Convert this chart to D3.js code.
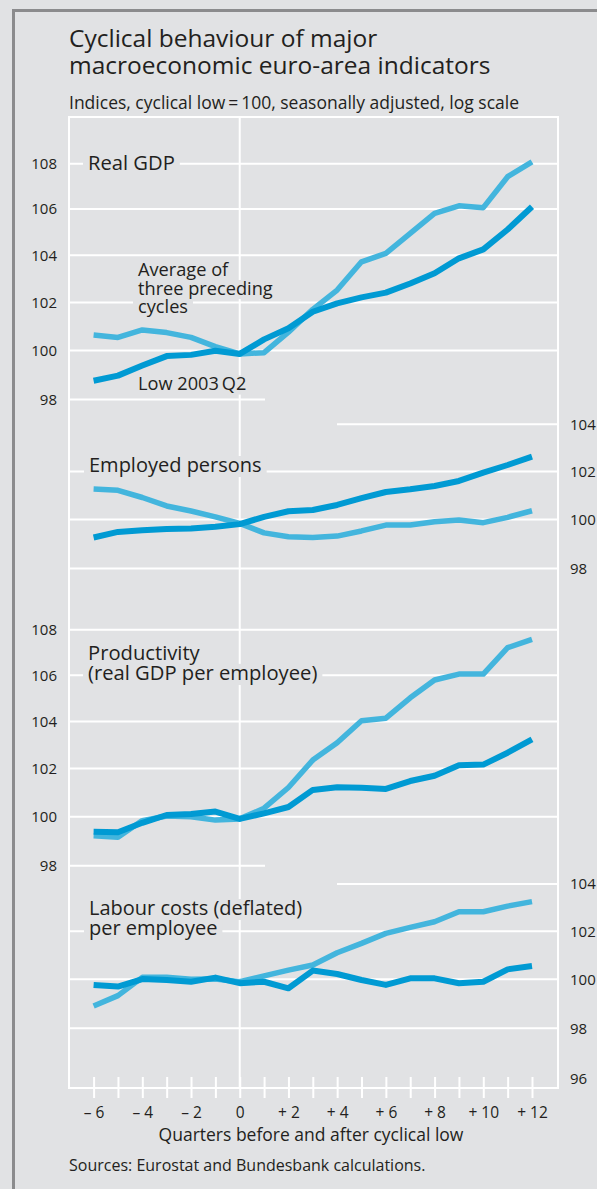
<!DOCTYPE html>
<html>
<head>
<meta charset="utf-8">
<script src="https://d3js.org/d3.v7.min.js"></script>
<style>
  body { margin: 0; background: #e1e2e4; }
  svg { display: block; font-family: "Open Sans", sans-serif; }
</style>
</head>
<body>
<script>
// quarters before / after the cyclical low
var quarters = [-6, -5, -4, -3, -2, -1, 0, 1, 2, 3, 4, 5, 6, 7, 8, 9, 10, 11, 12];

// Real GDP
var gdpLow = [98.76, 98.97, 99.38, 99.77, 99.82, 99.99, 99.86, 100.46, 100.92, 101.61, 101.96, 102.21, 102.41, 102.80, 103.23, 103.87, 104.25, 105.11, 106.10];
var gdpAvg = [100.64, 100.54, 100.85, 100.74, 100.54, 100.16, 99.86, 99.91, 100.76, 101.71, 102.52, 103.72, 104.08, 104.94, 105.81, 106.14, 106.06, 107.42, 108.08];

// Employed persons
var empLow = [99.26, 99.49, 99.56, 99.61, 99.63, 99.70, 99.81, 100.11, 100.34, 100.39, 100.60, 100.88, 101.14, 101.25, 101.39, 101.60, 101.95, 102.27, 102.62];
var empAvg = [101.26, 101.21, 100.91, 100.56, 100.35, 100.11, 99.84, 99.45, 99.29, 99.26, 99.32, 99.53, 99.77, 99.77, 99.91, 99.98, 99.87, 100.09, 100.36];

// Productivity (real GDP per employee)
var prodLow = [99.38, 99.36, 99.75, 100.07, 100.11, 100.21, 99.91, 100.14, 100.40, 101.11, 101.22, 101.20, 101.15, 101.48, 101.70, 102.14, 102.17, 102.67, 103.24];
var prodAvg = [99.22, 99.16, 99.84, 100.03, 100.00, 99.86, 99.91, 100.35, 101.21, 102.36, 103.09, 104.03, 104.14, 105.02, 105.79, 106.05, 106.05, 107.21, 107.58];

// Labour costs (deflated) per employee
var labLow = [99.77, 99.70, 100.01, 99.97, 99.90, 100.07, 99.84, 99.90, 99.63, 100.36, 100.22, 99.97, 99.77, 100.04, 100.04, 99.84, 99.90, 100.41, 100.55];
var labAvg = [98.91, 99.33, 100.08, 100.08, 100.00, 100.01, 99.90, 100.14, 100.38, 100.59, 101.10, 101.49, 101.91, 102.16, 102.40, 102.82, 102.82, 103.06, 103.25];

// tick labels
var leftTicks = [98, 100, 102, 104, 106, 108];
var empTicks = [98, 100, 102, 104];
var labTicks = [96, 98, 100, 102, 104];

var W = 597, H = 1189;
var plotL = 69, plotR = 558, plotT = 117, plotB = 1088;
var pxPerLog = 2428;   // pixels per natural-log unit, same for every panel
var textCol = "#231f20";
var bg = "#e1e2e4";
var darkBlue = "#009ad3", lightBlue = "#43b5dd";
var numFont = "'Liberation Sans Narrow', 'Open Sans', sans-serif";

var svg = d3.select("body").append("svg")
    .attr("width", W)
    .attr("height", H);

svg.append("rect").attr("width", W).attr("height", H).attr("fill", bg);

// grey frame at top and left
svg.append("path")
    .attr("d", "M13.5," + H + "V10.5H" + W)
    .attr("fill", "none")
    .attr("stroke", "#8b8b8d")
    .attr("stroke-width", 3);

// titles
svg.append("text").attr("x", 69).attr("y", 47).attr("font-size", 24.5).attr("fill", textCol)
    .text("Cyclical behaviour of major");
svg.append("text").attr("x", 69).attr("y", 74).attr("font-size", 24.5).attr("fill", textCol)
    .text("macroeconomic euro-area indicators");
svg.append("text").attr("x", 69).attr("y", 109).attr("font-size", 17.5).attr("fill", textCol)
    .text("Indices, cyclical low\u2009=\u2009100, seasonally adjusted, log scale");

var x = d3.scaleLinear().domain([-6, 12]).range([93.6, 532]);

var panels = [
  { y100: 350.5, ticks: leftTicks, side: "left", low: gdpLow, avg: gdpAvg, partial: { 98: [plotL, 265] } },
  { y100: 519.5, ticks: empTicks, side: "right", low: empLow, avg: empAvg, partial: { 104: [337, plotR] } },
  { y100: 816.7, ticks: leftTicks, side: "left", low: prodLow, avg: prodAvg, partial: { 98: [plotL, 265] } },
  { y100: 979.3, ticks: labTicks, side: "right", low: labLow, avg: labAvg, partial: { 104: [337, plotR] }, noGrid: [96] }
];

panels.forEach(function(p) {
  p.y = d3.scaleLog().domain([100, 110]).range([p.y100, p.y100 - pxPerLog * Math.log(1.1)]);
});

var grid = svg.append("g").attr("stroke", "#fff").attr("stroke-width", 2);

// horizontal grid lines
panels.forEach(function(p) {
  p.ticks.forEach(function(t) {
    if (p.noGrid && p.noGrid.indexOf(t) >= 0) return;
    var ext = p.partial[t] || [plotL, plotR];
    grid.append("line")
        .attr("x1", ext[0]).attr("x2", ext[1])
        .attr("y1", p.y(t)).attr("y2", p.y(t));
  });
});

// frame and zero line
grid.append("rect")
    .attr("x", plotL).attr("y", plotT)
    .attr("width", plotR - plotL).attr("height", plotB - plotT)
    .attr("fill", "none");
grid.append("line")
    .attr("x1", x(0)).attr("x2", x(0))
    .attr("y1", plotT).attr("y2", plotB);

// y axes
panels.forEach(function(p) {
  var axis = p.side === "left" ? d3.axisLeft(p.y) : d3.axisRight(p.y);
  axis.tickValues(p.ticks).tickSize(0).tickPadding(12).tickFormat(d3.format("d"));
  var g = svg.append("g")
      .attr("transform", "translate(" + (p.side === "left" ? plotL : plotR) + ",0)")
      .call(axis);
  g.select(".domain").remove();
  g.selectAll("text")
      .attr("font-family", numFont)
      .attr("font-size", 15)
      .attr("fill", textCol);
});

// x axis
var fmtQ = function(d) {
  if (d % 2) return "";
  if (d < 0) return "\u2013 " + Math.abs(d);
  if (d > 0) return "+ " + d;
  return "0";
};
var xg = svg.append("g")
    .attr("transform", "translate(0,1077)")
    .call(d3.axisBottom(x).tickValues(quarters).tickSize(21).tickPadding(9).tickFormat(fmtQ));
xg.select(".domain").remove();
xg.selectAll(".tick line").attr("stroke", "#fff").attr("stroke-width", 2);
xg.selectAll("text")
    .attr("font-family", numFont)
    .attr("font-size", 15.5)
    .attr("fill", textCol);

svg.append("text").attr("x", 311).attr("y", 1141).attr("text-anchor", "middle")
    .attr("font-size", 17.5).attr("fill", textCol)
    .text("Quarters before and after cyclical low");
svg.append("text").attr("x", 69).attr("y", 1171)
    .attr("font-size", 16).attr("fill", textCol)
    .text("Sources: Eurostat and Bundesbank calculations.");

// labels inside the panels; each is one text with a line per tspan,
// and every line gets a background box that cuts the grid
var labels = [
  { x: 88, y: 170, size: 20.2, lead: 19, lines: ["Real GDP"] },
  { x: 138, y: 276, size: 18.2, lead: 18.5, lines: ["Average of", "three preceding", "cycles"] },
  { x: 138, y: 390, size: 18.2, lead: 19, lines: ["Low 2003\u2009Q2"] },
  { x: 89, y: 472, size: 20, lead: 20, lines: ["Employed persons"] },
  { x: 88, y: 660, size: 20.2, lead: 20, lines: ["Productivity", "(real GDP per employee)"] },
  { x: 89, y: 915, size: 20, lead: 20, lines: ["Labour costs (deflated)", "per employee"] }
];
var boxG = svg.append("g");
var textG = svg.append("g");
labels.forEach(function(l) {
  var t = textG.append("text")
      .attr("x", l.x).attr("y", l.y)
      .attr("font-size", l.size)
      .attr("fill", textCol);
  l.lines.forEach(function(s, i) {
    var sp = t.append("tspan")
        .attr("x", l.x)
        .attr("dy", i === 0 ? 0 : l.lead)
        .text(s);
    var w = sp.node().getComputedTextLength();
    var base = l.y + i * l.lead;
    boxG.append("rect")
        .attr("fill", bg)
        .attr("x", l.x - 5)
        .attr("y", base - l.size * 0.8)
        .attr("width", w + 10)
        .attr("height", l.size * 1.05);
  });
});

// series lines
var line = function(p) {
  return d3.line()
      .x(function(d, i) { return x(quarters[i]); })
      .y(function(d) { return p.y(d); });
};
panels.forEach(function(p) {
  svg.append("path")
      .datum(p.avg)
      .attr("d", line(p))
      .attr("fill", "none")
      .attr("stroke", lightBlue)
      .attr("stroke-width", 5.5)
      .attr("stroke-linejoin", "round");
  svg.append("path")
      .datum(p.low)
      .attr("d", line(p))
      .attr("fill", "none")
      .attr("stroke", darkBlue)
      .attr("stroke-width", 6)
      .attr("stroke-linejoin", "round");
});
</script>
</body>
</html>
